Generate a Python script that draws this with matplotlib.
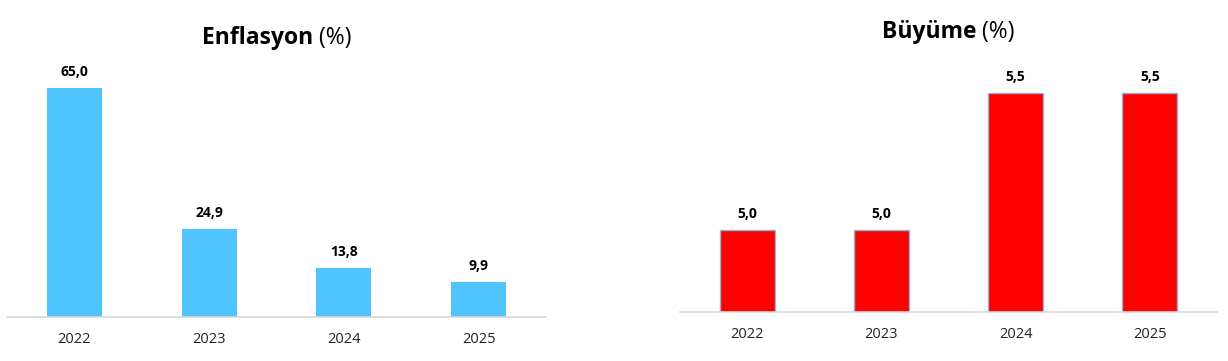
import numpy as np
import matplotlib.pyplot as plt

plt.rcParams['font.family'] = ['Open Sans', 'DejaVu Sans']

years = ['2022', '2023', '2024', '2025']
enflasyon = [65.0, 24.9, 13.8, 9.9]
buyume = [5.0, 5.0, 5.5, 5.5]

W, H = 1228, 361
fig = plt.figure(figsize=(W / 100, H / 100), dpi=100)

# axes boxes placed by pixel
ax1 = fig.add_axes([7 / W, (H - 317) / H, 539 / W, 246.6 / H])
ax2 = fig.add_axes([680 / W, (H - 312) / H, 537 / W, 246.6 / H])


def style(ax, vals, color, edge, ymin, ymax):
    x = np.arange(len(vals))
    ax.bar(x, vals, width=0.41, color=color, edgecolor=edge,
           linewidth=1 if edge != 'none' else 0, zorder=2)
    ax.set_xlim(-0.5, len(vals) - 0.5)
    ax.set_ylim(ymin, ymax)
    ax.set_xticks(x)
    ax.set_xticklabels(years, fontsize=10.5, color='#222222')
    ax.tick_params(axis='x', length=0, pad=10.5)
    ax.set_yticks([])
    for s in ['left', 'right', 'top']:
        ax.spines[s].set_visible(False)
    ax.spines['bottom'].set_color('#d9d9d9')
    ax.spines['bottom'].set_linewidth(1.2)
    for xi, v in zip(x, vals):
        ax.annotate(f'{v:.1f}'.replace('.', ','), xy=(xi, v), xytext=(0, 11.5),
                    textcoords='offset points', ha='center', va='center',
                    fontsize=10, fontweight='bold', color='black')


style(ax1, enflasyon, '#50C4FF', 'none', 0, 70)
style(ax2, buyume, '#FF0000', '#8FB4D9', 4.7, 5.6)


def title(bold, rest, cx, cy):
    t1 = fig.text(0, 0, bold, fontsize=16.5, fontweight='bold', va='center', ha='left')
    t2 = fig.text(0, 0, rest, fontsize=16.5, va='center', ha='left')
    fig.canvas.draw()
    w1 = t1.get_window_extent().width
    w2 = t2.get_window_extent().width
    x0 = cx - (w1 + w2) / 2
    t1.set_position((x0 / W, (H - cy) / H))
    t2.set_position(((x0 + w1) / W, (H - cy) / H))


title('Enflasyon', ' (%)', 277, 38)
title('Büyüme', ' (%)', 948.5, 32)

fig.savefig('out.png', dpi=100)
